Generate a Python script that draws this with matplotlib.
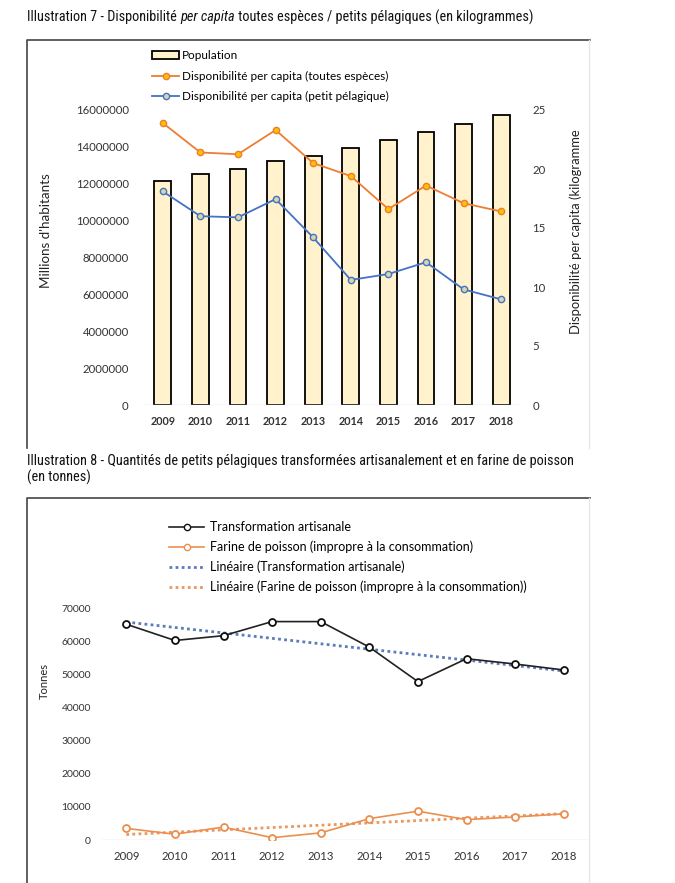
import numpy as np
import matplotlib
matplotlib.use("Agg")
import matplotlib.pyplot as plt
from matplotlib.lines import Line2D
from matplotlib.patches import Patch

# --- données illustration 7 ---
annees = ['2009', '2010', '2011', '2012', '2013', '2014', '2015', '2016', '2017', '2018']
population = [12150000, 12510000, 12820000, 13220000, 13520000, 13920000,
              14390000, 14790000, 15260000, 15730000]
dispo_toutes = [23.9, 21.4, 21.25, 23.3, 20.5, 19.4, 16.6, 18.6, 17.1, 16.4]
dispo_pelagique = [18.1, 16.0, 15.9, 17.45, 14.2, 10.6, 11.1, 12.1, 9.8, 8.95]

# --- données illustration 8 ---
artisanale = [65100, 60200, 61650, 65900, 65900, 58200, 47800, 54700, 53100, 51300]
farine = [3500, 1750, 3900, 700, 2150, 6450, 8700, 6150, 6950, 7900]

W, H = 675, 883
TXT = ['Lato', 'DejaVu Sans']
TIT = ['Roboto Condensed', 'Liberation Sans Narrow', 'Roboto', 'DejaVu Sans']
plt.rcParams['font.family'] = TXT


def fx(x):
    return x / W


def fy(y):
    return 1 - y / H


def ligne(fig, xs, ys, couleur, lw=1.2):
    fig.add_artist(Line2D([fx(v) for v in xs], [fy(v) for v in ys],
                          transform=fig.transFigure, color=couleur, lw=lw))


fig = plt.figure(figsize=(W / 100, H / 100), dpi=100)

# titre 7 avec "per capita" en italique
morceaux = [("Illustration 7 - Disponibilité ", 'normal'),
            ("per capita", 'italic'),
            (" toutes espèces / petits pélagiques (en kilogrammes)", 'normal')]
renderer = fig.canvas.get_renderer()
xpos = 27
for txt, style in morceaux:
    t = fig.text(fx(xpos), fy(17), txt, family=TIT, style=style, fontsize=10.3,
                 va='center', ha='left', color='#111111')
    xpos += t.get_window_extent(renderer).width

fig.text(fx(27), fy(461), "Illustration 8 - Quantités de petits pélagiques transformées "
         "artisanalement et en farine de poisson", family=TIT, fontsize=10.3,
         va='center', ha='left', color='#111111')
fig.text(fx(27), fy(477), "(en tonnes)", family=TIT, fontsize=10.3,
         va='center', ha='left', color='#111111')

# cadres
ligne(fig, [27, 27, 590], [448, 40, 40], '#444444', 1.2)
ligne(fig, [589, 589], [40, 448], '#E6E6E6', 1.0)
ligne(fig, [27, 27, 590], [883, 498, 498], '#444444', 1.2)
ligne(fig, [589, 589], [498, 883], '#E6E6E6', 1.0)

x = np.arange(len(annees))

# ---------- Illustration 7 ----------
ax1 = fig.add_axes([fx(144), fy(405), (520 - 144) / W, (405 - 110) / H])
ax1.bar(x, population, width=0.45, color='#FFF2CC', edgecolor='black', linewidth=1.3)
ax1.set_xlim(-0.5, 9.5)
ax1.set_ylim(0, 16000000)
ax1.set_yticks(np.arange(0, 16000001, 2000000))
ax1.set_yticklabels([str(v) for v in range(0, 16000001, 2000000)])
ax1.set_xticks(x)
ax1.set_xticklabels(annees, fontweight='bold')
ax1.axhline(0, color='#D9D9D9', lw=1.0)
for s in ax1.spines.values():
    s.set_visible(False)
ax1.tick_params(axis='y', length=0, pad=11, labelsize=8.2, labelcolor='#333333')
ax1.tick_params(axis='x', length=0, pad=8, labelsize=7.8, labelcolor='#333333')
ax1.set_ylabel("Millions d'habitants", fontsize=9.6, color='#222222')
ax1.yaxis.set_label_coords((52 - 144) / 376, (405 - 231) / 295)

ax2 = ax1.twinx()
ax2.set_ylim(0, 25)
ax2.set_yticks(range(0, 26, 5))
for s in ax2.spines.values():
    s.set_visible(False)
ax2.tick_params(axis='y', length=0, pad=9, labelsize=8.2, labelcolor='#333333')
ax2.plot(x, dispo_toutes, color='#ED7D31', lw=1.3, marker='o', ms=4.5,
         mfc='#FFC000', mec='#ED7D31', mew=1.0)
ax2.plot(x, dispo_pelagique, color='#4472C4', lw=1.3, marker='o', ms=4.5,
         mfc='#D6D6A8', mec='#4472C4', mew=1.0)
fig.text(fx(576), fy(232), "Disponibilité per capita (kilogramme", rotation=90,
         fontsize=9.4, va='center', ha='center', color='#222222')

h7 = [Patch(facecolor='#FFF2CC', edgecolor='black', lw=1.3),
      Line2D([], [], color='#ED7D31', lw=1.3, marker='o', ms=4.5, mfc='#FFC000', mec='#ED7D31'),
      Line2D([], [], color='#4472C4', lw=1.3, marker='o', ms=4.5, mfc='#D6D6A8', mec='#4472C4')]
l7 = ["Population", "Disponibilité per capita (toutes espèces)",
      "Disponibilité per capita (petit pélagique)"]
fig.legend(h7, l7, loc='upper left', bbox_to_anchor=(fx(152), fy(50)), frameon=False,
           fontsize=8.5, handlelength=2.3, handletextpad=0.2, labelspacing=0.82,
           borderpad=0, borderaxespad=0)

# ---------- Illustration 8 ----------
ax3 = fig.add_axes([fx(102), fy(840), (588 - 102) / W, (840 - 608) / H])
ax3.set_xlim(-0.5, 9.5)
ax3.set_ylim(0, 70000)
ax3.set_yticks(range(0, 70001, 10000))
ax3.set_xticks(x)
ax3.set_xticklabels(annees)
ax3.axhline(0, color='#D9D9D9', lw=1.0)
for s in ax3.spines.values():
    s.set_visible(False)
ax3.tick_params(axis='y', length=0, pad=8, labelsize=7.5, labelcolor='#333333')
ax3.tick_params(axis='x', length=0, pad=8, labelsize=8.2, labelcolor='#333333')
ax3.set_ylabel("Tonnes", fontsize=8, color='#222222')
ax3.yaxis.set_label_coords((50 - 102) / 486, (840 - 681) / 232)

ta = np.polyfit(x, artisanale, 1)
tf = np.polyfit(x, farine, 1)
ax3.plot(x, np.polyval(ta, x), color='#5B7BBA', lw=2.0, ls=(0, (1, 1.2)))
ax3.plot(x, np.polyval(tf, x), color='#E9985E', lw=2.0, ls=(0, (1, 1.2)))
ax3.plot(x, artisanale, color='#222222', lw=1.2, marker='o', ms=5,
         mfc='white', mec='#111111', mew=1.3)
ax3.plot(x, farine, color='#EC8E4E', lw=1.2, marker='o', ms=5,
         mfc='white', mec='#EC8E4E', mew=1.3)

h8 = [Line2D([], [], color='#222222', lw=1.2, marker='o', ms=4.5, mfc='white', mec='#111111'),
      Line2D([], [], color='#EC8E4E', lw=1.2, marker='o', ms=4.5, mfc='white', mec='#EC8E4E'),
      Line2D([], [], color='#5B7BBA', lw=2.0, ls=(0, (1, 1.2))),
      Line2D([], [], color='#E9985E', lw=2.0, ls=(0, (1, 1.2)))]
l8 = ["Transformation artisanale", "Farine de poisson (impropre à la consommation)",
      "Linéaire (Transformation artisanale)",
      "Linéaire (Farine de poisson (impropre à la consommation))"]
fig.legend(h8, l8, loc='upper left', bbox_to_anchor=(fx(169), fy(521)), frameon=False,
           fontsize=9.0, handlelength=2.8, handletextpad=0.45, labelspacing=0.6,
           borderpad=0, borderaxespad=0)

fig.savefig("out.png", dpi=100)
